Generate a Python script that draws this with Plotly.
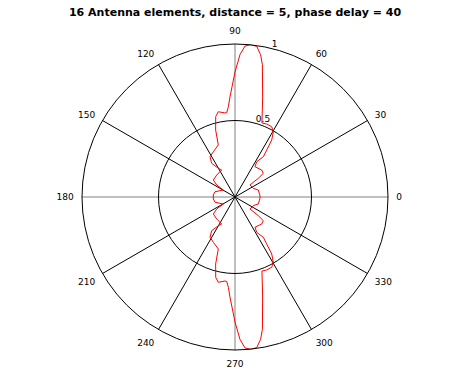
import plotly.graph_objects as go

title_text = "16 Antenna elements, distance = 5, phase delay = 40"

# Upper half of the pattern, theta in degrees
theta_upper = [0, 2.3, 16.7, 25.4, 38.7, 38.7, 39.9, 45.3, 56.6, 58.4, 54.9, 56.0, 57.2,
               59.6, 62.4, 66.5, 70.0, 74.4, 78.3, 79.8, 81.8, 84.2, 86.2, 88.0, 90.0,
               92.9, 94.2, 95.6, 96.8, 101.1, 103.5, 106.1, 107.8, 115.6, 121.8, 124.7,
               120.2, 116.2, 129.8, 141.9, 146.7, 149.1, 165.2, 174.7, 180]
r_upper = [0.163, 0.164, 0.159, 0.132, 0.126, 0.195, 0.241, 0.248, 0.237, 0.271, 0.322,
           0.370, 0.443, 0.495, 0.518, 0.520, 0.515, 0.672, 0.883, 0.945, 0.995, 1.0,
           0.989, 0.931, 0.817, 0.654, 0.592, 0.554, 0.553, 0.568, 0.540, 0.456, 0.357,
           0.328, 0.310, 0.268, 0.217, 0.197, 0.187, 0.180, 0.143, 0.089, 0.135, 0.142,
           0.142]

# Lower half of the pattern
theta_lower = [185.3, 194.8, 210.9, 213.3, 218.1, 230.2, 243.8, 239.8, 235.3, 238.2,
               244.4, 252.2, 253.9, 256.5, 258.9, 263.2, 264.4, 265.8, 267.1, 270.0,
               272.0, 273.8, 275.8, 278.2, 280.2, 281.7, 285.6, 290.0, 293.5, 297.6,
               300.4, 302.8, 304.0, 305.1, 301.6, 303.4, 314.7, 320.1, 321.3, 321.3,
               334.6, 343.3, 357.7, 360]
r_lower = [0.142, 0.135, 0.089, 0.143, 0.180, 0.187, 0.197, 0.217, 0.268, 0.310, 0.328,
           0.357, 0.456, 0.540, 0.568, 0.553, 0.554, 0.592, 0.654, 0.817, 0.931, 0.989,
           1.0, 0.995, 0.945, 0.883, 0.672, 0.515, 0.520, 0.518, 0.495, 0.443, 0.370,
           0.322, 0.271, 0.237, 0.248, 0.241, 0.195, 0.126, 0.132, 0.159, 0.164, 0.163]

main_angles = [0, 90, 180, 270]
other_angles = [30, 60, 120, 150, 210, 240, 300, 330]
radial_ticks = [0.5, 1]
radial_labels = ["0.5", "1"]

fig = go.Figure()
# empty trace so that the base polar subplot (grey main axes) is rendered
fig.add_trace(go.Scatterpolar(r=[None], theta=[None], mode="lines",
                              subplot="polar", showlegend=False, hoverinfo="skip"))
fig.add_trace(go.Scatterpolar(
    r=r_upper + r_lower, theta=theta_upper + theta_lower,
    mode="lines", line=dict(color="#ff0000", width=1),
    subplot="polar2", showlegend=False, hoverinfo="skip"))

tickfont = dict(family="DejaVu Sans", size=9, color="black")

common_polar = dict(
    bgcolor="rgba(0,0,0,0)",
    domain=dict(x=[0, 1], y=[0, 1]),
)

fig.update_layout(
    width=465, height=376,
    margin=dict(l=82, r=77, t=44, b=26),
    paper_bgcolor="white", plot_bgcolor="white",
    title=dict(text="<b>" + title_text + "</b>", x=0.5, xref="paper",
               y=1 - 12 / 376, yref="container", yanchor="middle", xanchor="center",
               font=dict(family="DejaVu Sans", size=11, color="black")),
    polar=dict(
        **common_polar,
        radialaxis=dict(range=[0, 1], showgrid=False, showline=False,
                        showticklabels=False, ticks=""),
        angularaxis=dict(tickmode="array", tickvals=main_angles,
                         ticktext=[str(a) for a in main_angles],
                         direction="counterclockwise", rotation=0,
                         showgrid=True, gridcolor="#808080", gridwidth=1,
                         showline=False, ticks="outside", ticklen=6,
                         tickcolor="rgba(0,0,0,0)", tickfont=tickfont),
    ),
    polar2=dict(
        **common_polar,
        radialaxis=dict(range=[0, 1], tickmode="array", tickvals=radial_ticks,
                        ticktext=[t + "<br> " for t in radial_labels],
                        showgrid=True, gridcolor="black",
                        gridwidth=1, showline=False, ticks="", angle=78,
                        tickangle=78, tickfont=tickfont),
        angularaxis=dict(tickmode="array", tickvals=other_angles,
                         ticktext=[str(a) for a in other_angles],
                         direction="counterclockwise", rotation=0,
                         showgrid=True, gridcolor="black", gridwidth=1,
                         showline=True, linecolor="black", linewidth=1,
                         ticks="outside", ticklen=6, tickcolor="rgba(0,0,0,0)",
                         tickfont=tickfont),
    ),
)

fig.write_html("out.html")
